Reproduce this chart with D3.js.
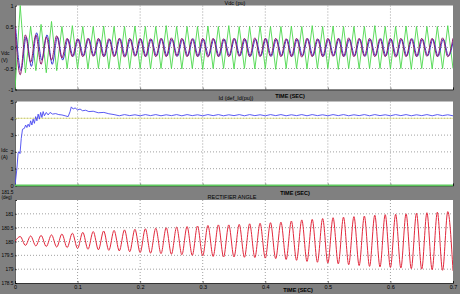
<!DOCTYPE html>
<html>
<head>
<meta charset="utf-8">
<script src="https://cdn.jsdelivr.net/npm/d3@7"></script>
<style>
body { margin: 0; background: #808080; }
svg { display: block; font-family: "Liberation Sans", Arial, sans-serif; }
.tick text { font-size: 5.5px; fill: #000; }
.grid line { stroke: #a0a0a0; stroke-dasharray: 1,2; }
.lbl { font-size: 5.5px; fill: #000; }
</style>
</head>
<body>
<div id="chart"></div>
<script>
const width = 460;
const height = 294;
const halfCycle = 1 / 120;   // extrema of the 60 Hz waves are one half-cycle apart

// panel 1 : Vdc (pu), extrema every half cycle from t = 0
const vdcGreen = [-1.0, 1.0, -0.6, 0.5, -0.55, 0.55, -0.6, 0.62, -0.55, 0.5, -0.5,
    0.52, -0.5, 0.5, -0.51, 0.5, -0.5, 0.51, -0.5, 0.5, -0.52, 0.5, -0.5, 0.51, -0.5,
    0.5, -0.51, 0.5, -0.5, 0.52, -0.5, 0.5, -0.51, 0.5, -0.5, 0.5, -0.52, 0.51, -0.5,
    0.5, -0.5, 0.52, -0.51, 0.5, -0.5, 0.5, -0.51, 0.51, -0.5, 0.5, -0.52, 0.5, -0.5,
    0.51, -0.5, 0.5, -0.51, 0.52, -0.5, 0.5, -0.5, 0.51, -0.52, 0.5, -0.5, 0.5, -0.51,
    0.5, -0.5, 0.52, -0.5, 0.5, -0.51, 0.5, -0.5, 0.51, -0.52, 0.5, -0.5, 0.5, -0.51,
    0.5, -0.5, 0.52, -0.5];
const vdcPurple = [0.5, -0.65, 0.3, -0.35, 0.3, -0.4, 0.25, -0.3, 0.28, -0.25, 0.22,
    -0.22, 0.21, -0.22, 0.22, -0.21, 0.22, -0.22, 0.21, -0.22, 0.22, -0.23, 0.22, -0.21,
    0.22, -0.22, 0.21, -0.22, 0.22, -0.22, 0.23, -0.21, 0.22, -0.22, 0.21, -0.22, 0.22,
    -0.23, 0.22, -0.22, 0.21, -0.22, 0.22, -0.21, 0.22, -0.22, 0.23, -0.22, 0.22, -0.21,
    0.22, -0.22, 0.21, -0.22, 0.22, -0.23, 0.22, -0.22, 0.21, -0.22, 0.22, -0.21, 0.22,
    -0.22, 0.23, -0.22, 0.22, -0.21, 0.22, -0.22, 0.21, -0.22, 0.22, -0.23, 0.22, -0.22,
    0.21, -0.22, 0.22, -0.21, 0.22, -0.22, 0.23, -0.22, 0.22];
const vdcBlue = [0.45, -0.55, 0.25, -0.45, 0.35, -0.3, 0.3, -0.4, 0.25, -0.3, 0.2,
    -0.21, 0.2, -0.2, 0.21, -0.2, 0.2, -0.21, 0.2, -0.2, 0.21, -0.21, 0.2, -0.2,
    0.2, -0.21, 0.2, -0.2, 0.21, -0.2, 0.2, -0.21, 0.2, -0.2, 0.21, -0.21, 0.2,
    -0.2, 0.2, -0.21, 0.2, -0.2, 0.21, -0.2, 0.2, -0.21, 0.2, -0.2, 0.21, -0.21,
    0.2, -0.2, 0.2, -0.21, 0.2, -0.2, 0.21, -0.2, 0.2, -0.21, 0.2, -0.2, 0.21,
    -0.21, 0.2, -0.2, 0.2, -0.21, 0.2, -0.2, 0.21, -0.2, 0.2, -0.21, 0.2, -0.2,
    0.21, -0.21, 0.2, -0.2, 0.2, -0.21, 0.2, -0.2, 0.21];
const blueLag = 0.0012;

// panel 2 : Id, start-up transient then steady ripple
const idTime = [0, 0.003, 0.005, 0.007, 0.008, 0.01, 0.012, 0.015, 0.017, 0.019, 0.021,
    0.023, 0.025, 0.027, 0.029, 0.031, 0.033, 0.035, 0.037, 0.039, 0.041, 0.043, 0.045,
    0.047, 0.05, 0.053, 0.056, 0.06, 0.065, 0.07, 0.075, 0.08, 0.085, 0.088, 0.09, 0.093,
    0.096, 0.1, 0.104, 0.108, 0.113, 0.118, 0.125, 0.133, 0.142, 0.15];
const idValue = [0, 1.0, 1.95, 2.0, 1.9, 2.8, 3.35, 3.4, 3.6, 3.45, 3.65,
    3.5, 3.85, 3.6, 3.95, 3.7, 4.1, 3.85, 4.25, 3.95, 4.35, 4.05, 4.4,
    4.15, 4.35, 4.2, 4.35, 4.25, 4.28, 4.22, 4.2, 4.15, 4.1, 4.4, 4.68, 4.55,
    4.62, 4.5, 4.55, 4.45, 4.48, 4.4, 4.42, 4.33, 4.35, 4.27];
const idRipple = [4.22, 4.15, 4.22, 4.16, 4.21, 4.15, 4.22, 4.16, 4.22, 4.15, 4.21,
    4.16, 4.22, 4.15, 4.22, 4.16, 4.21, 4.15, 4.22, 4.16, 4.22, 4.15, 4.21, 4.16,
    4.22, 4.15, 4.22, 4.16, 4.21, 4.15, 4.22, 4.16, 4.22, 4.15, 4.21, 4.16, 4.22,
    4.15, 4.22, 4.16, 4.21, 4.15, 4.22, 4.16, 4.22, 4.15, 4.21, 4.16, 4.22, 4.15,
    4.22, 4.16, 4.21, 4.15, 4.22, 4.16, 4.22, 4.15, 4.21, 4.16, 4.22, 4.15, 4.22,
    4.16, 4.21, 4.15];
const idRefLevel = 4;

// panel 3 : rectifier angle, peaks and troughs of each cycle
const angleStart = 180.0;
const angleMax = [180.18, 180.2, 180.22, 180.24, 180.27, 180.3, 180.33, 180.36, 180.38,
    180.4, 180.42, 180.44, 180.46, 180.48, 180.5, 180.52, 180.54, 180.56, 180.58, 180.6,
    180.6, 180.62, 180.64, 180.66, 180.68, 180.7, 180.74, 180.78, 180.8, 180.83, 180.86,
    180.88, 180.9, 180.92, 180.95, 180.97, 180.98, 181.0, 181.02, 181.04, 181.06, 181.08];
const angleMin = [179.86, 179.84, 179.82, 179.8, 179.78, 179.75, 179.72, 179.7, 179.68,
    179.66, 179.63, 179.6, 179.58, 179.56, 179.54, 179.52, 179.5, 179.48, 179.46, 179.44,
    179.44, 179.43, 179.42, 179.4, 179.38, 179.35, 179.32, 179.28, 179.25, 179.22, 179.19,
    179.16, 179.13, 179.1, 179.08, 179.06, 179.04, 179.02, 179.0, 178.98, 178.96, 178.94];

const xTicks = [0, 0.1, 0.2, 0.3, 0.4, 0.5, 0.6, 0.7];
const vdcTicks = [-1, -0.5, 0, 0.5, 1];
const idTicks = [0, 1, 2, 3, 4, 5];
const angleTicks = [178.5, 179, 179.5, 180, 180.5, 181, 181.5];

const x = d3.scaleLinear().domain([0, 0.7]).range([15, 453]);

const svg = d3.select('#chart')
    .append('svg')
    .attr('width', width)
    .attr('height', height);

svg.append('rect').attr('width', width).attr('height', height).attr('fill', '#808080');

function toPoints(values, t0) {
    return values.map((v, i) => [t0 + i * halfCycle, v]);
}

function initPanel(top, bottom, domain, ticks, showX) {
    const y = d3.scaleLinear().domain(domain).range([bottom, top]);
    const g = svg.append('g');
    g.append('rect')
        .attr('x', x.range()[0]).attr('y', top)
        .attr('width', x.range()[1] - x.range()[0]).attr('height', bottom - top)
        .attr('fill', '#fff');
    g.append('g').attr('class', 'grid')
        .selectAll('line').data(xTicks.slice(1, -1)).enter().append('line')
        .attr('x1', d => x(d)).attr('x2', d => x(d)).attr('y1', top).attr('y2', bottom);
    g.append('g').attr('class', 'grid')
        .selectAll('line').data(ticks.slice(1, -1)).enter().append('line')
        .attr('x1', x.range()[0]).attr('x2', x.range()[1]).attr('y1', d => y(d)).attr('y2', d => y(d));
    const yAxis = g.append('g')
        .attr('transform', `translate(${x.range()[0]},0)`)
        .call(d3.axisLeft(y).tickValues(ticks).tickSize(-2).tickPadding(1.5).tickFormat(d => String(d)));
    yAxis.select('.domain').attr('stroke', '#000').attr('stroke-width', 0.6);
    yAxis.selectAll('.tick line').attr('stroke', '#000').attr('stroke-width', 0.5);
    const xAxis = g.append('g')
        .attr('transform', `translate(0,${bottom})`)
        .call(d3.axisBottom(x).tickValues(xTicks).tickSize(-2).tickPadding(2)
            .tickFormat(showX ? (d => String(d)) : ''));
    xAxis.select('.domain').attr('stroke', '#000').attr('stroke-width', 0.6);
    xAxis.selectAll('.tick line').attr('stroke', '#000').attr('stroke-width', 0.5);
    const clipId = 'clip' + Math.round(top);
    g.append('clipPath').attr('id', clipId).append('rect')
        .attr('x', x.range()[0]).attr('y', top - 1)
        .attr('width', x.range()[1] - x.range()[0]).attr('height', bottom - top + 2);
    const plot = g.append('g').attr('clip-path', `url(#${clipId})`);
    return { y, g, plot, yAxis };
}

function drawLine(panel, points, color, curve, w) {
    panel.plot.append('path')
        .datum(points)
        .attr('fill', 'none')
        .attr('stroke', color)
        .attr('stroke-width', w || 1)
        .attr('d', d3.line().x(d => x(d[0])).y(d => panel.y(d[1])).curve(curve));
}

function text(xp, yp, str, anchor, weight, size) {
    svg.append('text')
        .attr('class', 'lbl')
        .attr('x', xp).attr('y', yp)
        .attr('text-anchor', anchor || 'middle')
        .attr('font-weight', weight || 'normal')
        .style('font-size', (size || 5.5) + 'px')
        .text(str);
}

// panel 1
const p1 = initPanel(5.5, 89.5, [-1, 1], vdcTicks, false);
drawLine(p1, toPoints(vdcGreen, 0), '#4cd84c', d3.curveLinear, 0.9);
drawLine(p1, toPoints(vdcBlue, blueLag), '#3a3ad0', d3.curveMonotoneX, 1);
drawLine(p1, toPoints(vdcPurple, 0), '#8e1a6a', d3.curveMonotoneX, 1);

// panel 2
const p2 = initPanel(101.5, 185.5, [0, 5], idTicks, false);
drawLine(p2, [[0, idRefLevel], [0.7, idRefLevel]], '#e0e070', d3.curveLinear, 0.7);
const idPoints = idTime.map((t, i) => [t, idValue[i]])
    .concat(idRipple.map((v, i) => [idTime[idTime.length - 1] + (i + 1) * halfCycle, v]));
drawLine(p2, idPoints, '#4848f0', d3.curveLinear, 0.9);
drawLine(p2, [[0, 0], [0.7, 0]], '#5cc85c', d3.curveLinear, 2);

// panel 3
const p3 = initPanel(200, 283, [178.5, 181.5], angleTicks, true);
const anglePoints = [[0, angleStart]];
angleMax.forEach((v, i) => {
    anglePoints.push([(2 * i + 1) * halfCycle, v]);
    anglePoints.push([(2 * i + 2) * halfCycle, angleMin[i]]);
});
drawLine(p3, anglePoints, '#e2283c', d3.curveMonotoneX, 1);
p3.yAxis.selectAll('.tick text').style('font-size', '4.8px');
p3.yAxis.selectAll('.tick text').filter(d => d === 181.5).attr('dy', '-1.3em');

// titles and labels
text(235, 4.5, 'Vdc (pu)');
text(290, 97.5, 'TIME (SEC)', 'middle', 'bold');
text(236, 99.5, 'Id (def_Id(pu))');
text(295, 194.5, 'TIME (SEC)', 'middle', 'bold');
text(232, 198.5, 'RECTIFIER ANGLE');
text(298, 292, 'TIME (SEC)', 'middle', 'bold');
text(1, 55, 'Vdc', 'start', 'normal', 5);
text(1, 62, '(V)', 'start', 'normal', 5);
text(1, 152, 'Idc', 'start', 'normal', 5);
text(1, 159, '(A)', 'start', 'normal', 5);
text(1.5, 198.5, '(deg)', 'start', 'normal', 4.5);
</script>
</body>
</html>
